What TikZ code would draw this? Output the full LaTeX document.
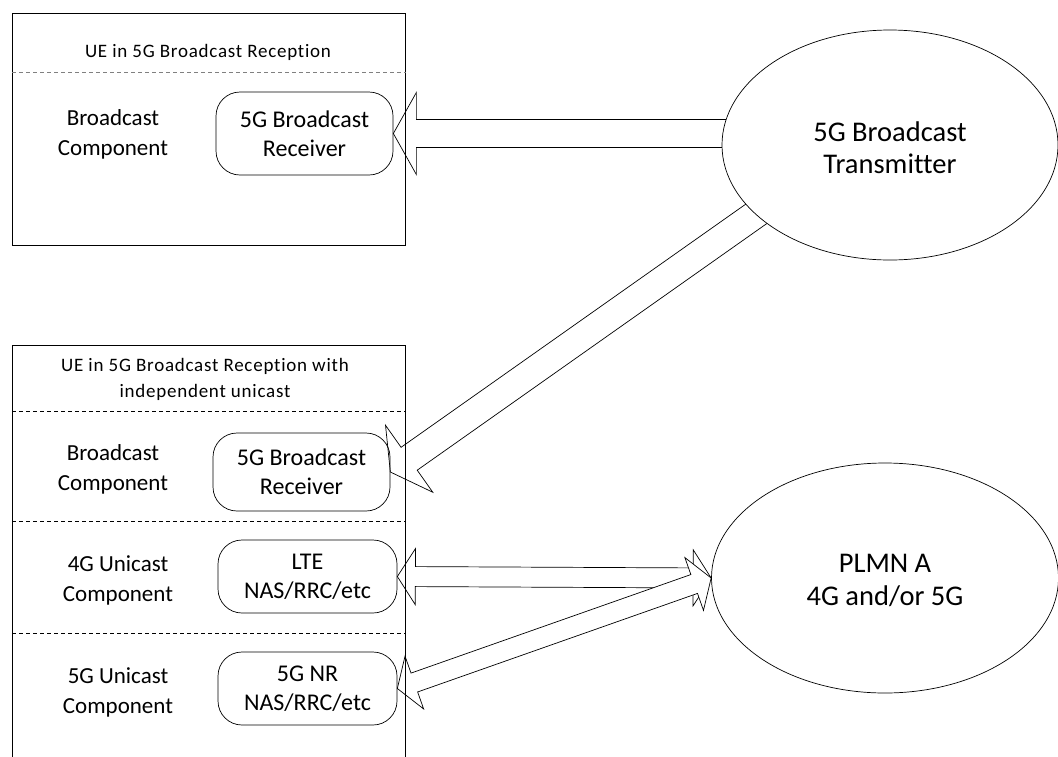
\documentclass[tikz,border=0pt]{standalone}
\usepackage{fontspec}
\setmainfont{Carlito}[Ligatures=NoCommon]
\usetikzlibrary{calc,backgrounds,shapes.geometric}
\newcommand{\blkarrow}[5]{%
  \coordinate (hb) at ($(#2)!#5pt!(#1)$);
  \draw[blk] ($(#1)!#3pt!90:(#2)$) -- ($(hb)!#3pt!90:(#2)$) -- ($(hb)!#4pt!90:(#2)$) -- (#2)
    -- ($(hb)!#4pt!-90:(#2)$) -- ($(hb)!#3pt!-90:(#2)$) -- ($(#1)!#3pt!-90:(#2)$) -- cycle;}
\newcommand{\dblkarrow}[5]{%
  \coordinate (ha) at ($(#1)!#5pt!(#2)$);
  \coordinate (hb) at ($(#2)!#5pt!(#1)$);
  \draw[blk] (#1) -- ($(ha)!#4pt!90:(#2)$) -- ($(ha)!#3pt!90:(#2)$) -- ($(hb)!#3pt!-90:(#1)$)
    -- ($(hb)!#4pt!-90:(#1)$) -- (#2) -- ($(hb)!#4pt!90:(#1)$) -- ($(hb)!#3pt!90:(#1)$)
    -- ($(ha)!#3pt!-90:(#2)$) -- ($(ha)!#4pt!-90:(#2)$) -- cycle;}
\begin{document}
\begin{tikzpicture}[x=1pt,y=-1pt,
  bigbox/.style={draw, line width=1pt, inner sep=0pt, anchor=north west},
  part/.style={draw, rounded corners=24pt, line width=0.7pt, inner sep=0pt, align=center, font=\fontsize{24}{29}\selectfont},
  lbl/.style={align=center, font=\fontsize{23}{30}\selectfont},
  ttl/.style={align=center, font=\fontsize{19}{26}\selectfont\addfontfeature{LetterSpace=4}},
  big/.style={draw, ellipse, fill=white, line width=0.7pt, inner sep=0pt, align=center, font=\fontsize{28.5}{33}\selectfont},
  sep/.style={dash pattern=on 4pt off 3pt, line width=0.7pt},
  blk/.style={draw, fill=white, line width=0.7pt, line join=miter}]
\useasboundingbox (0,0) rectangle (1058,756);
% upper UE
\node[bigbox, minimum width=393pt, minimum height=232pt] (ue1) at (12,13) {};
\node[ttl] (ttl1) at (208,52) {UE in 5G Broadcast Reception};
\draw[sep, gray] ([yshift=-59pt]ue1.north west) -- ([yshift=-59pt]ue1.north east);
\node[lbl] (bc1) at (113,134) {Broadcast\\Component};
\node[part, minimum width=177pt, minimum height=83pt] (r1) at (304.5,133.5) {5G Broadcast\\Receiver};
% lower UE
\node[bigbox, minimum width=393pt, minimum height=415pt] (ue2) at (12,345) {};
\node[ttl] (ttl2) at (205,379) {UE in 5G Broadcast Reception with\\independent unicast};
\draw[sep] ([yshift=-66pt]ue2.north west) -- ([yshift=-66pt]ue2.north east);
\draw[sep] ([yshift=-176pt]ue2.north west) -- ([yshift=-176pt]ue2.north east);
\draw[sep] ([yshift=-288pt]ue2.north west) -- ([yshift=-288pt]ue2.north east);
\node[lbl] (bc2) at (113,469) {Broadcast\\Component};
\node[part, minimum width=177pt, minimum height=78pt] (r2) at (301.5,472) {5G Broadcast\\Receiver};
\node[lbl] (u4) at (118,580) {4G Unicast\\Component};
\node[part, minimum width=179pt, minimum height=73pt] (lte) at (307.5,576.5) {LTE\\NAS/RRC/etc};
\node[lbl] (u5) at (118,692) {5G Unicast\\Component};
\node[part, minimum width=179pt, minimum height=73pt] (nr) at (307.5,688.5) {5G NR\\NAS/RRC/etc};
% networks
\node[big, minimum width=336pt, minimum height=230pt] (tx) at (890,145) {};
\node[align=center, font=\fontsize{28.5}{32}\selectfont] (txl) at (890,148) {5G Broadcast\\Transmitter};
\node[big, minimum width=347pt, minimum height=230pt] (plmn) at (885,578) {};
\node[align=center, font=\fontsize{28.5}{33}\selectfont] (plmnl) at (885,580) {PLMN A\\4G and/or 5G};
% block arrows
\coordinate (tt1) at (r1.east -| tx.center);
\coordinate (tt2) at ($(tx.center)+(-90,38)$);
\begin{pgfonlayer}{background}
\blkarrow{tt1}{r1.east}{14}{41}{23}
\blkarrow{tt2}{r2.east}{14}{41}{23}
\dblkarrow{lte.east}{plmn.west}{10}{28}{18}
\dblkarrow{nr.east}{plmn.west}{10}{28}{18}
\end{pgfonlayer}
\end{tikzpicture}
\end{document}
